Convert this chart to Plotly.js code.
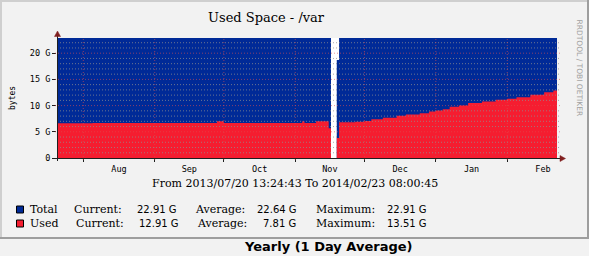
<!DOCTYPE html>
<html><head><meta charset="utf-8">
<script src="https://cdn.plot.ly/plotly-3.0.1.min.js"></script>
<style>html,body{margin:0;padding:0;background:#F2F2F2;overflow:hidden}#g{width:589px;height:256px}</style>
</head><body><div id="g"></div>
<script>
// ---- data (daily averages, step changes) ----
const dates = ['2013-07-20 14:00','2013-08-05','2013-09-28','2013-10-01','2013-11-04','2013-11-05','2013-11-10',
  '2013-11-15 12:00','2013-11-16 12:00','2013-11-17','2013-11-19','2013-11-20','2013-11-27','2013-12-01','2013-12-04',
  '2013-12-09','2013-12-15','2013-12-19','2013-12-25','2013-12-29','2014-01-01','2014-01-04','2014-01-07','2014-01-11',
  '2014-01-15','2014-01-21','2014-01-27','2014-02-01','2014-02-05','2014-02-11','2014-02-17','2014-02-21','2014-02-22 14:00'];
const totalGB = [22.9,22.9,22.9,22.9,22.9,22.9,22.9,
  22.9,22.9,null,18.7,22.9,22.9,22.9,22.9,
  22.9,22.9,22.9,22.9,22.9,22.9,22.9,22.9,22.9,
  22.9,22.9,22.9,22.9,22.9,22.9,22.9,22.9,22.9];
const usedGB = [6.65,6.7,7.0,6.7,7.0,6.7,7.0,
  5.7,5.7,null,3.8,6.8,6.9,7.05,7.4,
  7.7,8.05,8.3,8.55,8.85,9.05,9.3,9.8,10.0,
  10.5,10.8,11.1,11.3,11.6,12.05,12.55,12.9,12.9];
const monthStarts = ['2013-08-01','2013-09-01','2013-10-01','2013-11-01','2013-12-01','2014-01-01','2014-02-01'];
const xRange = ['2013-07-20 14:00','2014-02-22 14:00'];
const yMax = 22.9;
const yTickVals = [0,5,10,15,20];
const yTickText = ['0','5 G','10 G','15 G','20 G'];
const seriesNames = ['Total','Used'];
const seriesColors = ['#002A97','#F51D30'];
const curVals = ['22.91 G','12.91 G'];
const avgVals = ['22.64 G','7.81 G'];
const maxVals = ['22.91 G','13.51 G'];
const titleText = 'Used Space - /var';
const periodText = 'From 2013/07/20 13:24:43 To 2014/02/23 08:00:45';
const captionText = 'Yearly (1 Day Average)';
const yLabel = 'bytes';
const watermark = 'RRDTOOL / TOBI OETIKER';

// ---- layout helpers (pixel -> paper) ----
const L=57, T=38, W=500, H=120;
const X = px => (px-L)/W;
const Y = py => (T+H-py)/H;

// split a series at unknown (null) values so each run is filled on its own
function segments(xs, ys) {
  const out = []; let cx = [], cy = [];
  xs.forEach((x,i) => {
    if (ys[i] === null) { if (cx.length) out.push([cx,cy]); cx=[]; cy=[]; }
    else { cx.push(x); cy.push(ys[i]); }
  });
  if (cx.length) out.push([cx,cy]);
  return out;
}
const traces = [];
[totalGB, usedGB].forEach((ser, k) => {
  segments(dates, ser).forEach(([sx, sy]) => {
    // a one-day consolidated value spans a full day
    if (sx.length === 1) { sx = [sx[0], dates[dates.indexOf(sx[0])+1]]; sy = [sy[0], sy[0]]; }
    traces.push({x:sx, y:sy, type:'scatter', mode:'lines', line:{shape:'hv', width:0, color:seriesColors[k]},
      fill:'tozeroy', fillcolor:seriesColors[k], hoverinfo:'skip', name:seriesNames[k]});
  });
});

const shapes = [];
const GRID='rgba(143,143,143,0.75)', MGRID='rgba(222,79,79,0.6)', AXIS='#1f1f1f', ARROW='#801f1f';
for (let v=1; v<=Math.floor(yMax); v++) {
  const major = v%5===0;
  shapes.push({type:'line', xref:'paper', yref:'y', x0:X(major?55:57), x1:X(560), y0:v, y1:v,
    line:{color:major?MGRID:GRID, width:1, dash:'1px,2px'}, layer:'above'});
}
monthStarts.forEach(d => shapes.push({type:'line', xref:'x', yref:'paper', x0:d, x1:d, y0:Y(160), y1:1,
  line:{color:MGRID, width:1, dash:'1px,2px'}, layer:'above'}));
// axes + arrows
shapes.push({type:'line', xref:'paper', yref:'paper', x0:X(57.5), x1:X(57.5), y0:Y(161), y1:Y(34), line:{color:AXIS,width:1}, layer:'above'});
shapes.push({type:'line', xref:'paper', yref:'paper', x0:X(53), x1:X(561), y0:Y(158.5), y1:Y(158.5), line:{color:AXIS,width:1}, layer:'above'});
shapes.push({type:'path', xref:'paper', yref:'paper', path:`M ${X(54.5)} ${Y(36.5)} L ${X(60.5)} ${Y(36.5)} L ${X(57.5)} ${Y(31)} Z`, fillcolor:ARROW, line:{color:ARROW,width:0.5}, layer:'above'});
shapes.push({type:'path', xref:'paper', yref:'paper', path:`M ${X(560)} ${Y(155.5)} L ${X(560)} ${Y(161.5)} L ${X(565.5)} ${Y(158.5)} Z`, fillcolor:ARROW, line:{color:ARROW,width:0.5}, layer:'above'});
// frame of the image
shapes.push({type:'line', xref:'paper', yref:'paper', x0:X(0), x1:X(589), y0:Y(1), y1:Y(1), line:{color:'#CFCFCF',width:2}});
shapes.push({type:'line', xref:'paper', yref:'paper', x0:X(1), x1:X(1), y0:Y(0), y1:Y(239), line:{color:'#CFCFCF',width:2}});
shapes.push({type:'line', xref:'paper', yref:'paper', x0:X(0), x1:X(589), y0:Y(238), y1:Y(238), line:{color:'#9E9E9E',width:2}});
shapes.push({type:'line', xref:'paper', yref:'paper', x0:X(588), x1:X(588), y0:Y(0), y1:Y(239), line:{color:'#9E9E9E',width:2}});

const ann = [];
const A = (text, px, py, o={}) => ann.push(Object.assign({text, xref:'paper', yref:'paper', x:X(px), y:Y(py),
  xanchor:'left', yanchor:'middle', showarrow:false, font:{family:'DejaVu Serif', size:11, color:'#000'}}, o));
A(titleText, 266, 18, {xanchor:'center', font:{family:'DejaVu Serif', size:13, color:'#000'}});
A(periodText, 295, 183, {xanchor:'center', font:{family:'DejaVu Serif', size:11, color:'#000'}});
A(yLabel, 12, 98, {xanchor:'center', textangle:-90, font:{family:'DejaVu Sans Mono', size:8, color:'#000'}});
A(watermark, 579.5, 68, {xanchor:'center', textangle:90, font:{family:'DejaVu Sans', size:7.5, color:'#A0A0A0'}});
A(captionText, 328, 246, {xanchor:'center', font:{family:'DejaVu Sans', size:13, color:'#000', weight:'bold'}});
const SANS = {family:'DejaVu Sans', size:10, color:'#000'};
seriesNames.forEach((n,i) => {
  const yy = 209.5 + 14*i;
  shapes.push({type:'rect', xref:'paper', yref:'paper', x0:X(16.5), x1:X(23.5), y0:Y(yy-3.5), y1:Y(yy+3.5),
    fillcolor:seriesColors[i], line:{color:'#000', width:1}});
  const dx = i*2;
  A(n, 28, yy);
  A('Current:', 72+dx, yy);
  A(curVals[i], 135+dx, yy, {font:SANS});
  A('Average:', 193+dx, yy);
  A(avgVals[i], (i?261:255), yy, {font:SANS});
  A('Maximum:', 314, yy);
  A(maxVals[i], 385, yy, {font:SANS});
});

const layout = {
  width:589, height:256, margin:{l:L, r:589-L-W, t:T, b:256-T-H, pad:0},
  paper_bgcolor:'#F2F2F2', plot_bgcolor:'#FFFFFF', showlegend:false,
  xaxis:{type:'date', range:xRange, tick0:monthStarts[0], dtick:'M1', tickformat:'%b', ticklabelmode:'period',
    showgrid:false, zeroline:false, showline:false, ticks:'outside', ticklen:3, tickcolor:AXIS,
    tickfont:{family:'DejaVu Sans Mono', size:8.5, color:'#000'}, fixedrange:true},
  yaxis:{range:[0,yMax], tickmode:'array', tickvals:yTickVals, ticktext:yTickText, showgrid:false, zeroline:false,
    showline:false, ticks:'outside', ticklen:4, tickcolor:AXIS,
    tickfont:{family:'DejaVu Sans Mono', size:8.5, color:'#000'}, fixedrange:true},
  shapes, annotations:ann
};
Plotly.newPlot('g', traces, layout, {displayModeBar:false, staticPlot:true});
</script></body></html>
